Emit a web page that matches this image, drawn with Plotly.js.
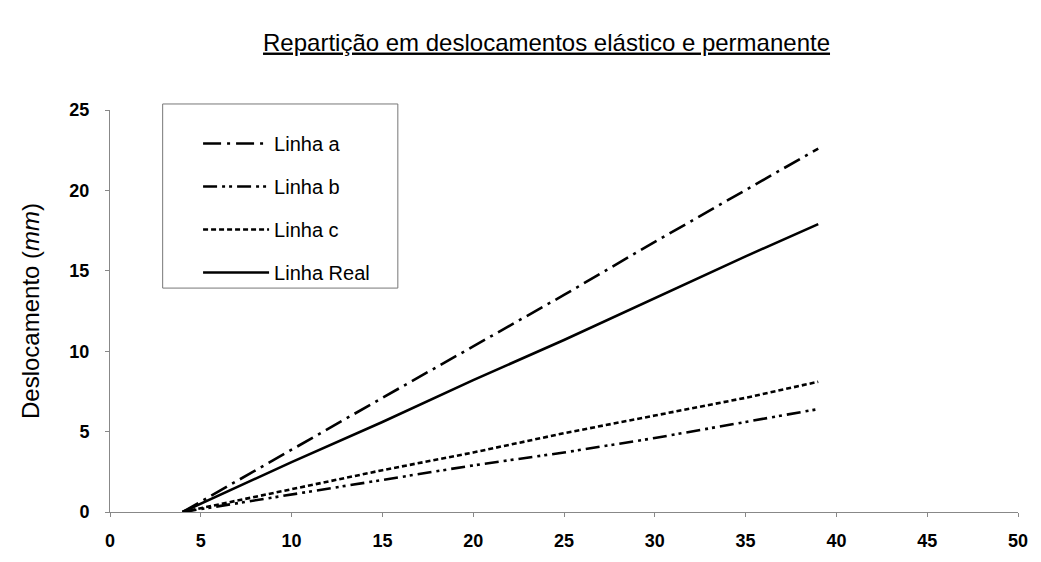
<!DOCTYPE html>
<html>
<head>
<meta charset="utf-8">
<script src="https://cdn.plot.ly/plotly-3.0.1.min.js"></script>
<style>
  body { margin: 0; background: #fff; }
  #chart { width: 1041px; height: 562px; }
</style>
</head>
<body>
<div id="chart"></div>
<script>
// values
var xs = [4, 10, 15, 20, 25, 30, 35, 39];
var linhaA = [0, 3.9, 7.1, 10.3, 13.5, 16.8, 20.0, 22.6];
var linhaB = [0, 1.1, 2.0, 2.9, 3.7, 4.6, 5.6, 6.4];
var linhaC = [0, 1.4, 2.6, 3.7, 4.9, 6.0, 7.1, 8.1];
var linhaReal = [0, 3.1, 5.6, 8.2, 10.7, 13.3, 15.9, 17.9];

var names = ["Linha a", "Linha b", "Linha c", "Linha Real"];
var dashes = ["18px,6px,3px,6px", "14px,5px,3px,4px,3px,5px", "5px,3px", "solid"];
var series = [linhaA, linhaB, linhaC, linhaReal];

var data = series.map(function (ys, i) {
  return {
    x: xs,
    y: ys,
    name: names[i],
    legendgroup: "g" + i,
    mode: "lines",
    line: { color: "#000", width: 2.6, dash: dashes[i] }
  };
});

var font = "Liberation Sans, Arial, sans-serif";

var layout = {
  width: 1041,
  height: 562,
  margin: { l: 110, r: 23, t: 110, b: 50 },
  paper_bgcolor: "#fff",
  plot_bgcolor: "#fff",
  font: { family: font, color: "#000" },
  title: {
    text: "<u>Repartição em deslocamentos elástico e permanente</u>",
    font: { family: font, size: 24, color: "#000" },
    x: 0.525,
    xanchor: "center",
    y: 0.925,
    yanchor: "middle"
  },
  showlegend: true,
  legend: {
    x: 0.097,
    y: 0.965,
    xanchor: "left",
    yanchor: "top",
    bgcolor: "rgba(0,0,0,0)",
    borderwidth: 0,
    font: { family: font, size: 20, color: "#000" },
    itemwidth: 66,
    tracegroupgap: 14
  },
  // legend frame
  shapes: [{
    type: "rect",
    xref: "paper",
    yref: "paper",
    x0: 0.058,
    x1: 0.317,
    y0: 0.557,
    y1: 1.015,
    line: { color: "#777", width: 1 },
    fillcolor: "rgba(0,0,0,0)",
    layer: "below"
  }],
  xaxis: {
    range: [0, 50],
    tickvals: [0, 5, 10, 15, 20, 25, 30, 35, 40, 45, 50],
    showgrid: false,
    zeroline: false,
    showline: true,
    linecolor: "#888",
    linewidth: 1,
    ticks: "outside",
    ticklen: 4,
    tickcolor: "#888",
    ticklabelstandoff: 8,
    tickfont: { family: font, size: 18, weight: "bold", color: "#000" }
  },
  yaxis: {
    range: [0, 25],
    tickvals: [0, 5, 10, 15, 20, 25],
    showgrid: false,
    zeroline: false,
    showline: true,
    linecolor: "#888",
    linewidth: 1,
    ticks: "outside",
    ticklen: 4,
    tickcolor: "#888",
    ticklabelstandoff: 12,
    tickfont: { family: font, size: 18, weight: "bold", color: "#000" },
    title: {
      text: "Deslocamento (<i>mm</i>)",
      font: { family: font, size: 24, color: "#000" },
      standoff: 22
    }
  }
};

Plotly.newPlot("chart", data, layout, { displayModeBar: false, staticPlot: true });
</script>
</body>
</html>
